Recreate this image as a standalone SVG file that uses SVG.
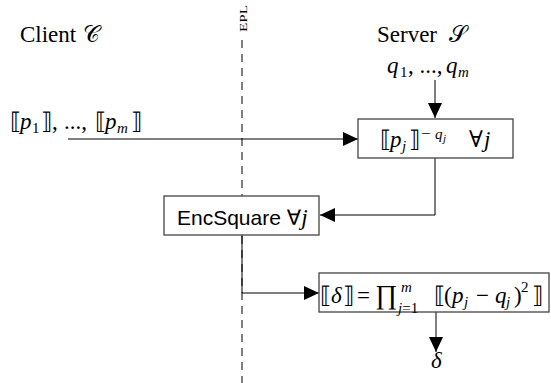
<svg xmlns="http://www.w3.org/2000/svg" width="551" height="383" viewBox="0 0 551 383">
<style>
.t{font-family:"Liberation Serif","DejaVu Serif",serif;font-size:23px;fill:#000}
.i{font-style:italic}
.sm{font-size:15px}
.xs{font-size:11px}
.big{font-size:27px}
.sans{font-family:"Liberation Sans","DejaVu Sans",sans-serif;font-size:21px}
.box{fill:#fff;stroke:#444;stroke-width:1.3}
.ln{fill:none;stroke:#000;stroke-width:1}
.dash{fill:none;stroke:#000;stroke-width:1;stroke-dasharray:8 6}
</style>
<defs>
<marker id="ah" markerUnits="userSpaceOnUse" markerWidth="16" markerHeight="14" refX="15" refY="7" orient="auto">
<path d="M0,0 L15,7 L0,14 z" fill="#000"/>
</marker>
</defs>
<g id="divider">
<line class="dash" x1="242" y1="40" x2="242" y2="383"/>
<text class="t" style="font-size:10px" textLength="27" lengthAdjust="spacingAndGlyphs" transform="translate(247,32) rotate(-90)">EPL</text>
</g>
<g id="client-label"><text class="t" x="20" y="42">Client <tspan x="83">𝒞</tspan></text></g>
<g id="server-label"><text class="t" x="377" y="42">Server <tspan x="449">𝒮</tspan></text></g>
<g id="q-input"><text class="t" y="73"><tspan class="i" x="387">q</tspan><tspan class="sm" x="400" y="77">1</tspan><tspan x="408" y="73">, ...,</tspan><tspan class="i" x="446">q</tspan><tspan class="sm i" x="458" y="77">m</tspan></text></g>
<g id="p-input"><text class="t" y="129"><tspan x="10">⟦</tspan><tspan class="i" x="20">p</tspan><tspan class="sm" x="32" y="133">1</tspan><tspan x="41" y="129">⟧,</tspan><tspan x="64">...,</tspan><tspan x="95">⟦</tspan><tspan class="i" x="105">p</tspan><tspan class="sm i" x="117" y="133">m</tspan><tspan x="131" y="129">⟧</tspan></text></g>
<g id="connectors">
<line class="ln" x1="435" y1="80" x2="435" y2="118" marker-end="url(#ah)"/>
<line class="ln" x1="68" y1="139" x2="358" y2="139" marker-end="url(#ah)"/>
<polyline class="ln" points="435,158 435,215 320,215" marker-end="url(#ah)"/>
<polyline class="ln" points="242,235 242,293 319,293" marker-end="url(#ah)"/>
<line class="ln" x1="436" y1="312" x2="436" y2="352" marker-end="url(#ah)"/>
</g>
<g id="node-pow">
<rect class="box" x="358" y="119" width="155" height="39"/>
<text class="t" y="147"><tspan x="380">⟦</tspan><tspan class="i" x="390">p</tspan><tspan class="sm i" x="402" y="151">j</tspan><tspan x="409" y="147">⟧</tspan><tspan style="font-size:17px" x="421" y="139">−</tspan><tspan class="sm i" x="435" y="139">q</tspan><tspan class="xs i" x="443" y="142">j</tspan><tspan x="469" y="147">∀</tspan><tspan class="i" x="484">j</tspan></text>
</g>
<g id="node-encsquare">
<rect class="box" x="164" y="196" width="155" height="39"/>
<text class="sans" x="177" y="225">EncSquare <tspan>∀</tspan><tspan class="t i">j</tspan></text>
</g>
<g id="node-prod">
<rect class="box" x="319" y="273" width="230" height="39"/>
<text class="t" y="303"><tspan x="320">⟦</tspan><tspan class="i" x="331">δ</tspan><tspan x="343">⟧</tspan><tspan x="357">=</tspan><tspan class="big" x="375" y="304">∏</tspan><tspan class="sm i" x="401" y="292">m</tspan><tspan class="sm i" x="398" y="313">j</tspan><tspan class="sm">=1</tspan><tspan x="434" y="303">⟦</tspan><tspan x="444">(</tspan><tspan class="i" x="452">p</tspan><tspan class="sm i" x="464" y="307">j</tspan><tspan x="476" y="303">−</tspan><tspan class="i" x="495">q</tspan><tspan class="sm i" x="506" y="307">j</tspan><tspan x="514" y="303">)</tspan><tspan class="sm" x="521" y="292">2</tspan><tspan x="532" y="303">⟧</tspan></text>
</g>
<g id="delta-output"><text class="t i" x="431" y="368">δ</text></g>
</svg>
